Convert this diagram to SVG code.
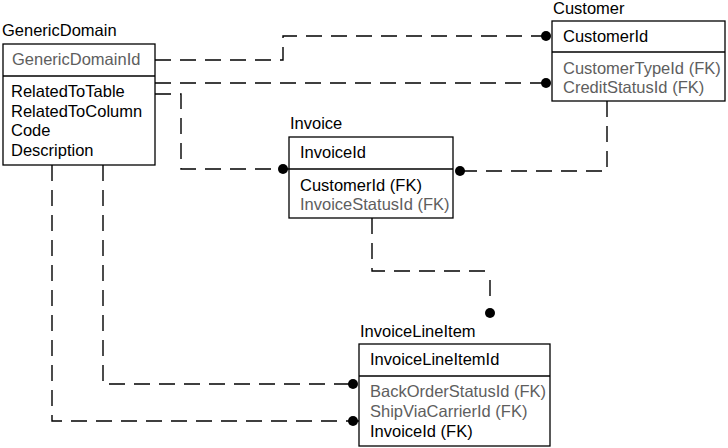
<svg xmlns="http://www.w3.org/2000/svg" width="728" height="448" viewBox="0 0 728 448">
<style>
text{font-family:"Liberation Sans",Arial,sans-serif;font-size:16.5px;fill:#000}
.g{fill:#5e5e5e}
.box{fill:#fff;stroke:#000;stroke-width:1.3}
.div{stroke:#000;stroke-width:1.3}
.con{fill:none;stroke:#000;stroke-width:1.4;stroke-dasharray:16 9}
.dot{fill:#000}
</style>
<rect width="728" height="448" fill="#fff"/>
<g id="connectors">
<path class="con" d="M155,60 H283 V36 H552"/>
<path class="con" d="M155,83 H552"/>
<path class="con" d="M155,94 H181 V169 H289"/>
<path class="con" d="M607,101 V171 H453"/>
<path class="con" d="M372,218 V271 H490"/>
<path class="con" d="M490,280 V303"/>
<path class="con" d="M103,165 V384 H359"/>
<path class="con" d="M52,165 V421 H359"/>
<circle class="dot" cx="546" cy="36" r="5"/>
<circle class="dot" cx="546" cy="83" r="5"/>
<circle class="dot" cx="283" cy="169" r="5"/>
<circle class="dot" cx="460" cy="171" r="5"/>
<circle class="dot" cx="490" cy="313" r="5"/>
<circle class="dot" cx="353" cy="384" r="5"/>
<circle class="dot" cx="353" cy="421" r="5"/>
</g>
<g id="GenericDomain">
<text x="2" y="36">GenericDomain</text>
<rect class="box" x="3" y="44" width="152" height="121"/>
<line class="div" x1="3" y1="76" x2="155" y2="76"/>
<text class="g" x="12" y="65">GenericDomainId</text>
<text x="11" y="97">RelatedToTable</text>
<text x="11" y="117">RelatedToColumn</text>
<text x="11" y="136">Code</text>
<text x="11" y="156">Description</text>
</g>
<g id="Customer">
<text x="553" y="14">Customer</text>
<rect class="box" x="552" y="21" width="173" height="80"/>
<line class="div" x1="552" y1="52" x2="725" y2="52"/>
<text x="563" y="42">CustomerId</text>
<text class="g" x="563" y="74">CustomerTypeId (FK)</text>
<text class="g" x="563" y="93">CreditStatusId (FK)</text>
</g>
<g id="Invoice">
<text x="290" y="129">Invoice</text>
<rect class="box" x="289" y="137" width="164" height="81"/>
<line class="div" x1="289" y1="169" x2="453" y2="169"/>
<text x="300" y="158">InvoiceId</text>
<text x="300" y="191">CustomerId (FK)</text>
<text class="g" x="300" y="210">InvoiceStatusId (FK)</text>
</g>
<g id="InvoiceLineItem">
<text x="360" y="337">InvoiceLineItem</text>
<rect class="box" x="359" y="344" width="191" height="102"/>
<line class="div" x1="359" y1="376" x2="550" y2="376"/>
<text x="370" y="365">InvoiceLineItemId</text>
<text class="g" x="370" y="397">BackOrderStatusId (FK)</text>
<text class="g" x="370" y="417">ShipViaCarrierId (FK)</text>
<text x="370" y="437">InvoiceId (FK)</text>
</g>
</svg>
